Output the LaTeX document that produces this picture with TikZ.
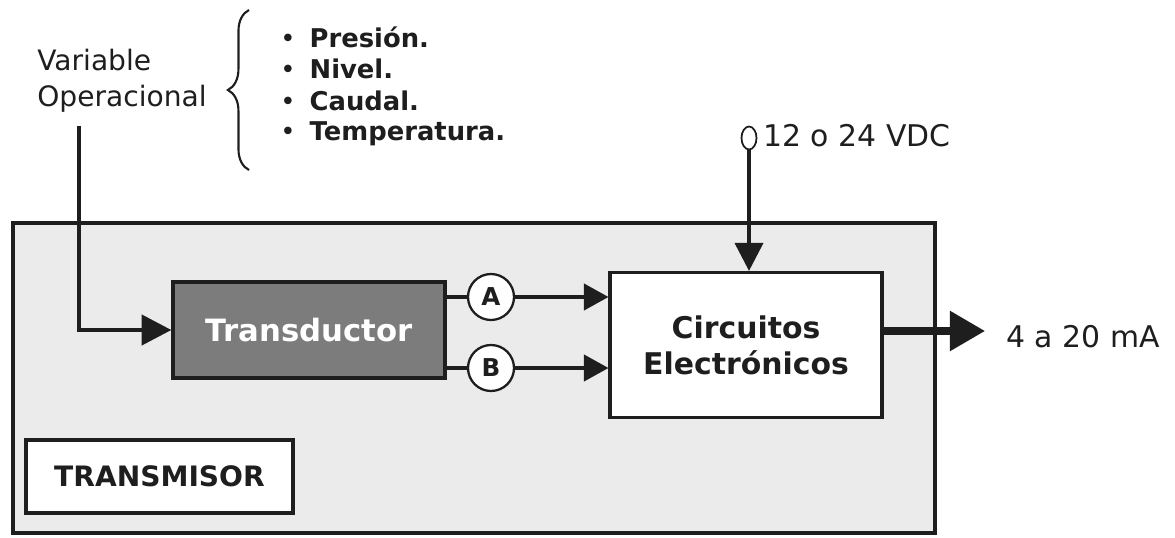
\documentclass[tikz,border=0pt]{standalone}
\usepackage{fontspec}
\setmainfont{DejaVu Sans}
\usetikzlibrary{arrows.meta,decorations.pathreplacing,positioning,shapes.geometric}
\definecolor{trink}{HTML}{1E1E1E}
\definecolor{trpanel}{HTML}{EBEBEB}
\definecolor{trdark}{HTML}{7C7C7C}
\tikzset{
  tr text/.style={font=\fontsize{16}{20.4}\selectfont, text=trink},
  tr panel/.style={draw=trink, line width=2.3pt, fill=trpanel},
  tr box/.style={draw=trink, line width=1.8pt, fill=white, align=center,
    font=\fontsize{17}{20.4}\selectfont\bfseries},
  tr dot/.style={circle, draw=trink, line width=1.3pt, fill=white, minimum size=0.92cm,
    inner sep=0pt, font=\fontsize{14}{16}\selectfont\bfseries},
  tr arrow/.style={-{Triangle[length=14pt,width=15pt]}, line width=1.9pt, draw=trink},
  tr line/.style={line width=1.9pt, draw=trink},
  tr label/.style={font=\fontsize{17}{20}\selectfont, text=trink, inner sep=0pt},
  tr item/.style={font=\fontsize{14.7}{18}\selectfont, text=trink, inner sep=0pt, anchor=west}
}

\begin{document}
\begin{tikzpicture}[tr text, x=0.02cm, y=-0.02cm]
  \useasboundingbox (0,0) rectangle (1175,537);
  % transmitter housing
  \node[tr panel, minimum width=18.46cm, minimum height=6.2cm] (transmisor) at (474,378) {};
  \node[tr box, font=\fontsize{16}{19}\selectfont\bfseries,
    minimum width=5.34cm, minimum height=1.46cm] (tag) at (159.5,476.5) {TRANSMISOR};
  \node[tr box, fill=trdark, text=white, font=\fontsize{17.5}{20}\selectfont\bfseries,
    minimum width=5.44cm, minimum height=1.92cm] (transductor) at (309,330) {Transductor};
  \node[tr box, minimum width=5.44cm, minimum height=2.9cm] (circuitos) at (746,345)
    {Circuitos\\Electrónicos};
  % outputs A and B of the transducer
  \foreach \lab/\y in {A/297,B/368} {
    \node[tr dot] (\lab) at (491,\y) {\lab};
    \draw[tr line] (transductor.east |- \lab) -- (\lab);
    \draw[tr arrow] (\lab) -- (circuitos.west |- \lab);
  }
  % measured variable
  \node[anchor=west, align=left, inner sep=0pt] (varop) at (37,81) {Variable\\Operacional};
  \draw[line width=1.2pt, draw=trink, decorate, decoration={brace, amplitude=12pt}]
    (249,170) -- (249,10);
  \foreach \var/\y [count=\i] in {Presión./37, Nivel./69, Caudal./101, Temperatura./134} {
    \node[tr item] (item\i) at (280,\y) {•\hspace{8pt}\textbf{\var}};
  }
  \coordinate (var in) at (79,126);
  \draw[tr arrow, line width=2.8pt, -{Triangle[length=17pt,width=17pt]}]
    (var in) |- (transductor.west);
  % supply
  \node[ellipse, draw=trink, line width=1pt, minimum width=0.3cm, minimum height=0.46cm,
    inner sep=0pt] (supply) at (749,138) {};
  \node[tr label, anchor=west] (vdc) at (763,136) {12 o 24 VDC};
  \draw[tr arrow, line width=2.2pt, -{Triangle[length=16pt,width=16pt]}]
    (supply) -- (supply |- circuitos.north);
  % current loop output
  \coordinate (out tip) at (985,331);
  \draw[tr arrow, line width=4pt, -{Triangle[length=20pt,width=22pt]}]
    (circuitos.east |- out tip) -- (out tip);
  \node[tr label, anchor=west] (ma) at (1006,337) {4 a 20 mA};
\end{tikzpicture}
\end{document}
